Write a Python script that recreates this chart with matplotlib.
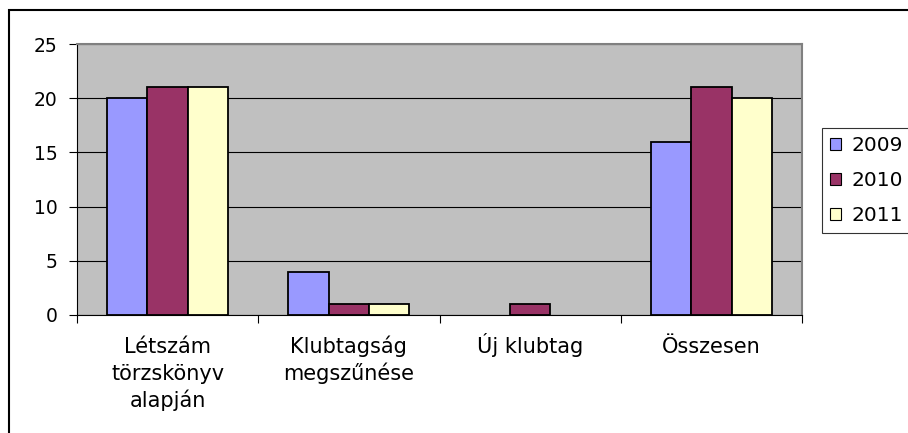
import matplotlib
matplotlib.use("Agg")
import matplotlib.pyplot as plt
from matplotlib.patches import Patch, Rectangle
import numpy as np

categories = ["Létszám\ntörzskönyv\nalapján", "Klubtagság\nmegszűnése", "Új klubtag", "Összesen"]
series_names = ["2009", "2010", "2011"]
values_2009 = [20, 4, 0, 16]
values_2010 = [21, 1, 1, 21]
values_2011 = [21, 1, 0, 20]
y_ticks = [0, 5, 10, 15, 20, 25]

colors = ["#9999FF", "#993366", "#FFFFCC"]

W, H = 908, 433
plt.rcParams['font.family'] = ['DejaVu Sans']
fig = plt.figure(figsize=(W / 100, H / 100), dpi=100)

# outer frame
fig.patches.append(Rectangle((9 / W, 0 - 0.05), 1.1, 1 - 10 / H + 0.05, transform=fig.transFigure,
                             fill=False, edgecolor="black", linewidth=1.5))

left, right, top, bottom = 77, 802, 44, 315
ax = fig.add_axes([left / W, 1 - bottom / H, (right - left) / W, (bottom - top) / H])
ax.set_facecolor("#C0C0C0")

n = len(categories)
x = np.arange(n)
bw = 1 / 4.5
series = [values_2009, values_2010, values_2011]
for i, (vals, c, name) in enumerate(zip(series, colors, series_names)):
    lws = [0 if v == 0 else 1.3 for v in vals]
    ax.bar(x + (i - 1) * bw, vals, width=bw, color=c, edgecolor="black", linewidth=lws,
           label=name, zorder=3)

ax.set_xlim(-0.5, n - 0.5)
ax.set_ylim(0, 25)
ax.set_yticks(y_ticks)
ax.set_yticklabels([str(t) for t in y_ticks], fontsize=13.5)
ax.yaxis.grid(True, color="black", linewidth=0.8, zorder=1)
ax.set_axisbelow(True)

# category labels: each line placed on its own baseline
ax.set_xticks(np.arange(n + 1) - 0.5)
ax.set_xticklabels([])
ax.tick_params(axis="x", length=6, width=0.8, direction="out")
for i, label in enumerate(categories):
    for k, line in enumerate(label.split("\n")):
        ax.annotate(line, xy=(x[i], 0), xycoords=("data", "axes fraction"),
                    xytext=(0, -(38 + 27 * k)), textcoords="offset pixels",
                    ha="center", va="baseline", fontsize=15)
ax.tick_params(axis="y", length=6, width=0.8, direction="out", pad=8)

for s in ["left", "bottom"]:
    ax.spines[s].set_color("black")
    ax.spines[s].set_linewidth(0.8)
for s in ["top", "right"]:
    ax.spines[s].set_color("#808080")
    ax.spines[s].set_linewidth(1.5)

handles = [Patch(facecolor=c, edgecolor="black", linewidth=0.8) for c in colors]
leg = fig.legend(handles, series_names, loc="upper left",
                 bbox_to_anchor=(822 / W, 1 - 128 / H), borderaxespad=0,
                 fontsize=14.5, frameon=True, fancybox=False, edgecolor="black",
                 handlelength=0.55, handleheight=0.55, handletextpad=0.5,
                 labelspacing=0.8, borderpad=0.4)
leg.get_frame().set_linewidth(0.8)

fig.savefig("out.png", dpi=100)
